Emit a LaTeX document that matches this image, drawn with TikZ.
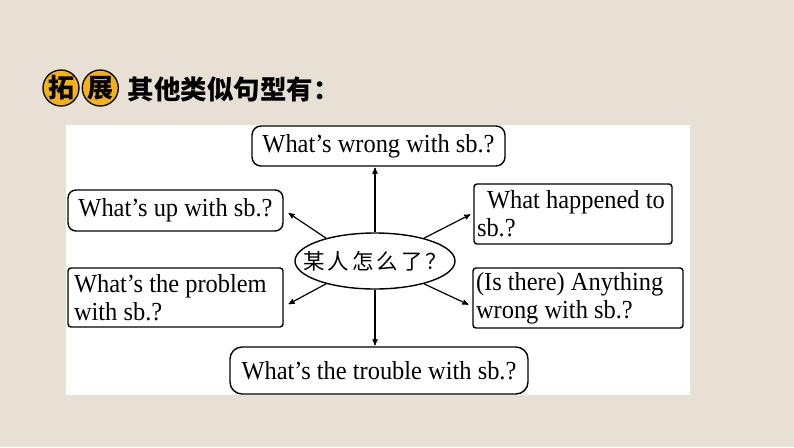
\documentclass[tikz,border=0pt]{standalone}
\usepackage{fontspec}
\setmainfont{Liberation Serif}[FakeStretch=0.94]
\newfontfamily\cjk{Noto Sans CJK SC}
\usetikzlibrary{arrows,positioning,shapes.geometric}
\definecolor{paper}{RGB}{231,225,213}
\definecolor{badge}{RGB}{242,178,20}

\begin{document}
\begin{tikzpicture}[x=1pt,y=-1pt,->,>=stealth',shorten >=1pt,line width=1.2pt,
	box/.style={draw=black,line width=1.4pt,rectangle,rounded corners=9pt,font=\fontsize{26}{28}\selectfont,inner sep=4pt},
	flat/.style={box,rounded corners=3pt,align=flush left,anchor=center},
	circ/.style={draw=black,line width=1.3pt,circle,fill=badge,minimum size=36pt,inner sep=0pt,font=\cjk\bfseries\fontsize{26}{26}\selectfont}]
	\useasboundingbox (0,0) rectangle (794,447);
	\fill[paper] (0,0) rectangle (794,447);
	\fill[white] (66,125) rectangle (690,395);

	% title
	\node[circ]			(tuo)	at (61,88)		{拓};
	\node[circ]			(zhan)	[right=2pt of tuo]	{展};
	\node[anchor=west,inner sep=0pt,font=\cjk\bfseries\fontsize{26.5}{26.5}\selectfont]	(title)	at (127,89)	{其他类似句型有：};

	% centre
	\node[draw=black,line width=1.4pt,ellipse,minimum width=160pt,minimum height=56pt,inner xsep=-18pt,inner ysep=0pt,font=\cjk\fontsize{21.5}{21.5}\selectfont]	(who)	at (375,261)	{某\hspace{3pt}人\hspace{3pt}怎\hspace{3pt}么\hspace{3pt}了\hspace{3pt}？};

	% questions
	\node[box,minimum width=253pt,minimum height=40pt]	(wrong)		at (378.5,146)	{What’s wrong with sb.?};
	\node[box,minimum width=215pt,minimum height=41pt,rounded corners=8pt]	(up)	at (175.5,210.5)	{What’s up with sb.?};
	\node[flat,minimum width=198pt,minimum height=60pt,text width=192pt,inner sep=3pt]	(happened)	at (573,214)	{\hspace*{10pt}What happened to\\sb.?};
	\node[flat,minimum width=215pt,minimum height=59pt,text width=203pt,inner sep=5pt]	(problem)	at (175.5,297.5)	{What’s the problem\\with sb.?};
	\node[flat,minimum width=210pt,minimum height=60pt,text width=204pt,inner sep=2pt]	(anything)	at (578,298)	{(Is there) Anything\\wrong with sb.?};
	\node[box,minimum width=298pt,minimum height=47pt,rounded corners=12pt]	(trouble)	at (379,370.5)	{What’s the trouble with sb.?};

	\path
		(who.north)	edge	(who.north |- wrong.south)
		(who.155)	edge	([xshift=4pt,yshift=-2pt]up.east)
		(who.25)	edge	([xshift=-2pt]happened.west)
		(who.205)	edge	([xshift=4pt,yshift=-7pt]problem.east)
		(who.-25)	edge	([xshift=-3pt,yshift=-7pt]anything.west)
		(who.south)	edge	(who.south |- trouble.north)
	;
\end{tikzpicture}
\end{document}
